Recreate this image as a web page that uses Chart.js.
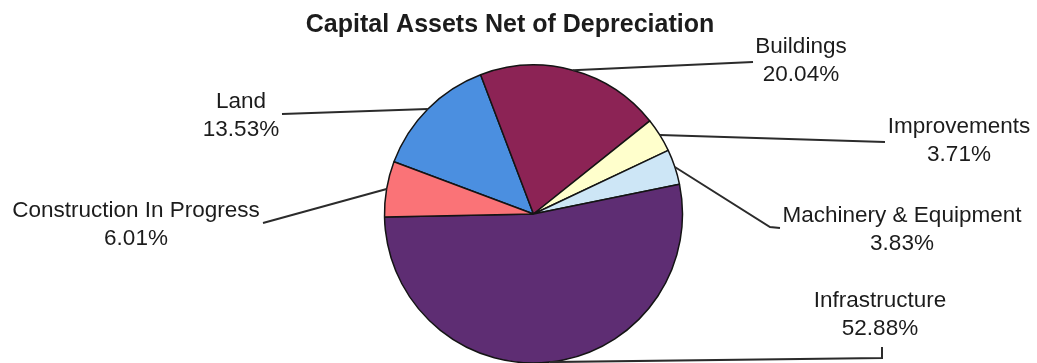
<!DOCTYPE html>
<html lang="en">
<head>
<meta charset="UTF-8">
<title>Capital Assets Net of Depreciation</title>
<script src="https://cdn.jsdelivr.net/npm/chart.js"></script>
<style>
  html, body { margin: 0; padding: 0; background: #fff; }
  #wrap { width: 1037px; height: 363px; }
</style>
</head>
<body>
<div id="wrap"><canvas id="assetsChart" width="1037" height="363"></canvas></div>
<script>
// asset categories, in drawing order (clockwise)
const categories = ['Land', 'Buildings', 'Improvements', 'Machinery & Equipment', 'Infrastructure', 'Construction In Progress'];
const shares = [13.53, 20.04, 3.71, 3.83, 52.88, 6.01];
const sliceColors = ['#4b8fe0', '#8c2355', '#ffffcc', '#cde6f6', '#5e2d73', '#fa7377'];

const chartTitle = 'Capital Assets Net of Depreciation';

// where each callout sits: text centre, first baseline, leader line bends
const labelSpots = [
  { x: 241, y: 108, path: [[282, 114]] },
  { x: 801, y: 53,  path: [[753, 62]] },
  { x: 959, y: 133, path: [[885, 142]] },
  { x: 902, y: 222, path: [[770, 227], [780, 228]] },
  { x: 880, y: 307, path: [[882, 358], [882, 347]] },
  { x: 136, y: 217, path: [[263, 223]] }
];

const labelFont = '22.5px "Liberation Sans", Arial, sans-serif';
const titleFont = 'bold 25px "Liberation Sans", Arial, sans-serif';

const callouts = {
  id: 'callouts',
  afterDraw(chart) {
    const ctx = chart.ctx;
    const arcs = chart.getDatasetMeta(0).data;
    ctx.save();

    // title
    ctx.fillStyle = '#1c1c1c';
    ctx.font = titleFont;
    ctx.textAlign = 'center';
    ctx.textBaseline = 'alphabetic';
    ctx.fillText(chartTitle, 510, 32);

    arcs.forEach((arc, i) => {
      const p = arc.getProps(['x', 'y', 'startAngle', 'endAngle', 'outerRadius'], true);
      const mid = (p.startAngle + p.endAngle) / 2;
      const sx = p.x + Math.cos(mid) * p.outerRadius;
      const sy = p.y + Math.sin(mid) * p.outerRadius;
      const spot = labelSpots[i];

      ctx.strokeStyle = '#2b2b2b';
      ctx.lineWidth = 2;
      ctx.beginPath();
      ctx.moveTo(sx, sy);
      spot.path.forEach(pt => ctx.lineTo(pt[0], pt[1]));
      ctx.stroke();

      ctx.fillStyle = '#1c1c1c';
      ctx.font = labelFont;
      ctx.fillText(categories[i], spot.x, spot.y);
      ctx.fillText(shares[i].toFixed(2) + '%', spot.x, spot.y + 28);
    });
    ctx.restore();
  }
};

new Chart(document.getElementById('assetsChart'), {
  type: 'pie',
  data: {
    labels: categories,
    datasets: [{
      data: shares,
      backgroundColor: sliceColors,
      borderColor: '#141414',
      borderWidth: 1.5,
      radius: 149
    }]
  },
  options: {
    responsive: false,
    animation: false,
    rotation: -69.5,
    layout: { padding: { left: 30, right: 0, top: 65, bottom: 0 } },
    plugins: {
      legend: { display: false },
      tooltip: { enabled: false }
    }
  },
  plugins: [callouts]
});
</script>
</body>
</html>
